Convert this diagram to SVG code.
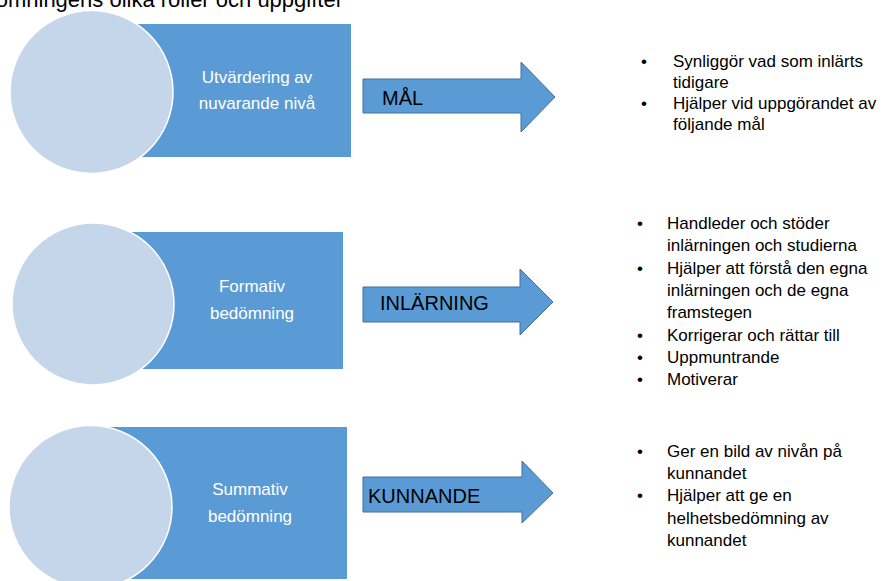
<svg xmlns="http://www.w3.org/2000/svg" width="882" height="581" viewBox="0 0 882 581">
<style>
.bg{fill:#ffffff}
.rect{fill:#5B9BD5}
.circ{fill:#C5D5EA;stroke:#ffffff;stroke-width:1.5}
.lbl{font-family:"Liberation Sans",Arial,sans-serif;font-size:17px;fill:#ffffff;text-anchor:middle}
.arrow{fill:#5B9BD5;stroke:#41719C;stroke-width:1}
.atxt{font-family:"Liberation Sans",Arial,sans-serif;font-size:20px;fill:#000000}
.bul{font-family:"Liberation Sans",Arial,sans-serif;font-size:17px;fill:#000000}
.title{font-family:"Liberation Sans",Arial,sans-serif;font-size:22px;fill:#000000}
</style>
<rect class="bg" x="0" y="0" width="882" height="581"/>
<text class="title" x="343" y="7" text-anchor="end">Bedömningens olika roller och uppgifter</text>

<g id="node-utvardering">
<rect class="rect" x="90" y="24" width="261" height="133"/>
<circle class="circ" cx="91.5" cy="92" r="81.5"/>
<text class="lbl" x="257" y="83">Utvärdering av</text>
<text class="lbl" x="257" y="109">nuvarande nivå</text>
</g>
<g id="node-formativ">
<rect class="rect" x="90" y="232" width="253" height="137"/>
<circle class="circ" cx="93" cy="304" r="81"/>
<text class="lbl" x="252" y="292">Formativ</text>
<text class="lbl" x="252" y="319">bedömning</text>
</g>
<g id="node-summativ">
<rect class="rect" x="90" y="427" width="257" height="152"/>
<circle class="circ" cx="90.5" cy="507" r="81.5"/>
<text class="lbl" x="250" y="495">Summativ</text>
<text class="lbl" x="250" y="522">bedömning</text>
</g>

<g id="connectors">
<g id="arrow-mal">
<path class="arrow" d="M363,79 H521 V62 L555,97 L521,132 V113 H363 Z"/>
<text class="atxt" x="382" y="105">MÅL</text>
</g>
<g id="arrow-inlarning">
<path class="arrow" d="M363,287 H520 V269 L553,302 L520,335 V322 H363 Z"/>
<text class="atxt" x="380" y="310">INLÄRNING</text>
</g>
<g id="arrow-kunnande">
<path class="arrow" d="M363,477 H522 V461 L553,493 L522,523 V512 H363 Z"/>
<text class="atxt" x="368" y="503">KUNNANDE</text>
</g>
</g>

<g id="list-mal">
<text class="bul" x="641" y="67">•</text>
<text class="bul" x="673" y="67">Synliggör vad som inlärts</text>
<text class="bul" x="673" y="88">tidigare</text>
<text class="bul" x="641" y="109">•</text>
<text class="bul" x="673" y="109">Hjälper vid uppgörandet av</text>
<text class="bul" x="673" y="130">följande mål</text>
</g>
<g id="list-inlarning">
<text class="bul" x="637" y="229">•</text>
<text class="bul" x="667" y="229">Handleder och stöder</text>
<text class="bul" x="667" y="251">inlärningen och studierna</text>
<text class="bul" x="637" y="274">•</text>
<text class="bul" x="667" y="274">Hjälper att förstå den egna</text>
<text class="bul" x="667" y="296">inlärningen och de egna</text>
<text class="bul" x="667" y="318">framstegen</text>
<text class="bul" x="637" y="341">•</text>
<text class="bul" x="667" y="341">Korrigerar och rättar till</text>
<text class="bul" x="637" y="363">•</text>
<text class="bul" x="667" y="363">Uppmuntrande</text>
<text class="bul" x="637" y="385">•</text>
<text class="bul" x="667" y="385">Motiverar</text>
</g>
<g id="list-kunnande">
<text class="bul" x="637" y="457">•</text>
<text class="bul" x="667" y="457">Ger en bild av nivån på</text>
<text class="bul" x="667" y="479">kunnandet</text>
<text class="bul" x="637" y="501">•</text>
<text class="bul" x="667" y="501">Hjälper att ge en</text>
<text class="bul" x="667" y="524">helhetsbedömning av</text>
<text class="bul" x="667" y="546">kunnandet</text>
</g>
</svg>
